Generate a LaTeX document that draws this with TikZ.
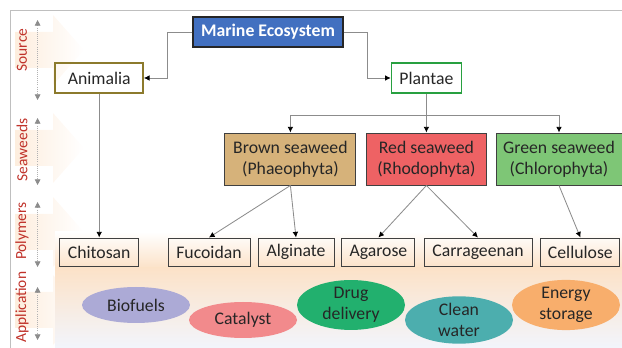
\documentclass[tikz,border=0pt]{standalone}
\usepackage{fontspec}
\setmainfont{Carlito}
\usetikzlibrary{arrows.meta,shapes.geometric}
\definecolor{marineblue}{RGB}{66,112,192}
\definecolor{animalline}{RGB}{140,122,44}
\definecolor{plantline}{RGB}{40,160,64}
\definecolor{brownweed}{RGB}{214,178,122}
\definecolor{redweed}{RGB}{238,98,100}
\definecolor{greenweed}{RGB}{126,198,118}
\definecolor{labelred}{RGB}{192,50,42}
\definecolor{peach}{RGB}{252,226,200}
\definecolor{haze}{RGB}{242,245,252}
\definecolor{biofuelc}{RGB}{172,170,214}
\definecolor{catalystc}{RGB}{242,138,140}
\definecolor{drugc}{RGB}{34,176,110}
\definecolor{waterc}{RGB}{76,174,174}
\definecolor{energyc}{RGB}{248,174,108}

\begin{document}
\begin{tikzpicture}
\tikzstyle{every node}=[font=\fontsize{12.6}{15}\selectfont, text=black!85]
\tikzstyle{box}=[draw=black!75, line width=0.7pt, minimum height=0.75cm, inner sep=2pt]
\tikzstyle{seaweed}=[box, minimum height=1.3cm, align=center]
\tikzstyle{polymer}=[box, minimum height=0.7cm]
\tikzstyle{use}=[ellipse, minimum width=2.7cm, minimum height=0.9cm, inner sep=0pt, align=center]
\tikzstyle{link}=[draw=black!45, line width=0.6pt, -{Latex[length=4pt,width=4pt,color=black]}]
\tikzstyle{level}=[rotate=90, text=labelred, font=\fontsize{11}{13}\selectfont]
\tikzstyle{span}=[densely dotted, draw=black!30, line width=0.5pt, {Triangle[length=4pt,width=4pt,color=black!45]}-{Triangle[length=4pt,width=4pt,color=black!45]}]

\useasboundingbox (0,0) rectangle (15.55,-8.7);

\foreach \y in {-1.25,-3.7,-5.8,-7.75}
  \shade[left color=peach!60, right color=white] (0.375,\y+0.45) -- (1.325,\y+0.45) -- (1.325,\y+0.875) -- (2.1,\y) -- (1.325,\y-0.875) -- (1.325,\y-0.45) -- (0.375,\y-0.45) -- cycle;
\shade[top color=white, bottom color=peach] (1.375,-5.8) rectangle (15.55,-6.7);
\shade[top color=peach, bottom color=haze] (1.375,-6.7) rectangle (15.55,-8.7);

\draw[black!25, line width=0.8pt] (0.26,-8.7) -- (0.26,-0.26) -- (15.55,-0.26);

\node[level] (lsource) at (0.55,-1.25) {Source};
\node[level] (lseaweeds) at (0.55,-3.75) {Seaweeds};
\node[level] (lpolymers) at (0.55,-5.78) {Polymers};
\node[level] (lapplication) at (0.55,-7.68) {Application};
\foreach \a/\b in {-0.5/-2.5,-2.95/-4.625,-5.05/-6.675,-7.175/-8.5}
  \draw[span] (0.94,\a) -- (0.94,\b);

\node[box, fill=marineblue, draw=black!85, line width=1pt, text=white, minimum width=3.75cm] (marine) at (6.7,-0.8) {\bfseries Marine Ecosystem};
\node[box, draw=animalline, line width=1pt, minimum width=2.2cm] (animalia) at (2.48,-1.95) {Animalia};
\node[box, draw=plantline, line width=1pt, minimum width=1.75cm] (plantae) at (10.66,-1.95) {Plantae};

\node[seaweed, fill=brownweed, minimum width=3.275cm] (brown) at (7.26,-3.975) {Brown seaweed\\(Phaeophyta)};
\node[seaweed, fill=redweed, minimum width=3cm] (red) at (10.66,-3.975) {Red seaweed\\(Rhodophyta)};
\node[seaweed, fill=greenweed, minimum width=3.15cm] (green) at (13.975,-3.975) {Green seaweed\\(Chlorophyta)};

\node[polymer, minimum width=1.975cm] (chitosan) at (2.48,-6.3) {Chitosan};
\node[polymer, minimum width=2.05cm] (fucoidan) at (5.225,-6.3) {Fucoidan};
\node[polymer, minimum width=1.9cm] (alginate) at (7.4,-6.3) {Alginate};
\node[polymer, minimum width=1.825cm] (agarose) at (9.46,-6.3) {Agarose};
\node[polymer, minimum width=2.7cm] (carrageenan) at (11.95,-6.3) {Carrageenan};
\node[polymer, minimum width=1.975cm] (cellulose) at (14.51,-6.3) {Cellulose};

\node[use, fill=biofuelc] (biofuels) at (3.4,-7.625) {Biofuels};
\node[use, fill=catalystc] (catalyst) at (6.075,-8.0) {Catalyst};
\node[use, fill=drugc] (drug) at (8.775,-7.625) {Drug\\delivery};
\node[use, fill=waterc] (water) at (11.475,-8.0) {Clean\\water};
\node[use, fill=energyc] (energy) at (14.15,-7.625) {Energy\\storage};

\coordinate (split) at (10.66,-2.875);
\draw[link] (marine.west) -- ++(-0.625,0) |- (animalia.east);
\draw[link] (marine.east) -- ++(0.6,0) |- (plantae.west);
\draw[link] (animalia.south) -- (chitosan.north);
\draw[link] (plantae.south) -- (red.north);
\draw[link] (split) -| (brown.north);
\draw[link] (split) -| (green.north);
\draw[link] (brown.south) -- (fucoidan.north);
\draw[link] (brown.south) -- (alginate.north);
\draw[link] (red.south) -- (agarose.north);
\draw[link] (red.south) -- (carrageenan.north);
\draw[link] (green.south) -- (cellulose.north);
\end{tikzpicture}
\end{document}
